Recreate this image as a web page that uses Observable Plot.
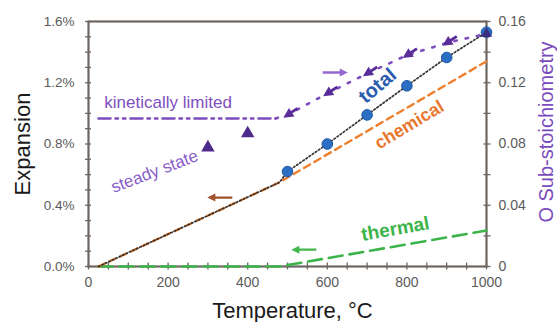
<!DOCTYPE html>
<html><head><meta charset="utf-8">
<script src="https://cdn.jsdelivr.net/npm/d3@7"></script>
<script src="https://cdn.jsdelivr.net/npm/@observablehq/plot@0.6"></script>
<style>html,body{margin:0;padding:0;background:#fff}#chart svg{display:block}</style>
</head><body><div id="chart"></div>
<script>
// ---- data ----
const totalLineT = [25, 480, 500, 600, 700, 800, 900, 1000];
const totalLineV = [0, 0.55, 0.62, 0.80, 0.99, 1.18, 1.365, 1.53];   // expansion %
const totalPointT = [500, 600, 700, 800, 900, 1000];
const totalPointV = [0.62, 0.80, 0.99, 1.18, 1.365, 1.53];
const chemicalT = [25, 480, 1000];
const chemicalV = [0, 0.55, 1.34];
const thermalT = [25, 480, 1000];
const thermalV = [0, 0, 0.235];
const kineticT = [25, 470, 500, 600, 700, 800, 900, 1000];
const kineticO = [0.0967, 0.0967, 0.099, 0.113, 0.126, 0.138, 0.146, 0.152]; // O sub-stoichiometry
const steadyT = [300, 400];
const steadyO = [0.0777, 0.0869];
const coolingT = [500, 600, 700, 800, 900];
const coolingO = [0.099, 0.113, 0.126, 0.138, 0.146];
const endT = [1000];
const endO = [0.152];
const xMajorTicks = [0, 200, 400, 600, 800, 1000];
const xMinorTicks = d3.range(0, 1001, 50);
const leftMajorTicks = [0, 0.4, 0.8, 1.2, 1.6];
const leftMinorTicks = d3.range(0, 16.01, 1).map(v => v / 10);
const rightMajorTicks = [0, 0.04, 0.08, 0.12, 0.16];
const rightMinorTicks = d3.range(0, 0.161, 0.02);
const ratio = 10; // 0.16 O  <->  1.6 %

// ---- annotation layout ----
const labelNotes = [
  {text: "total", T: 726, v: 1.18, rot: -40, color: "#2b5cae", size: 20, weight: "bold"},
  {text: "chemical", T: 806, v: 0.925, rot: -31, color: "#e8782e", size: 18, weight: "bold"},
  {text: "thermal", T: 771, v: 0.245, rot: -10, color: "#3db449", size: 19, weight: "bold"},
  {text: "steady state", T: 166, v: 0.62, rot: -21, color: "#8a5ec8", size: 17, weight: "normal"},
  {text: "kinetically limited", T: 200, v: 1.07, rot: 0, color: "#7f4fc0", size: 17, weight: "normal"}
];
const arrowNotes = [
  {T: 620, v: 1.267, angle: 0, color: "#9466d0"},
  {T: 330, v: 0.45, angle: 180, color: "#a0522d"},
  {T: 541, v: 0.11, angle: 180, color: "#45b649"}
];

function arrowSymbol(angleDeg, total, head, headW, tailW, tip) {
  const a = angleDeg * Math.PI / 180, ux = Math.cos(a), uy = Math.sin(a), vx = -uy, vy = ux;
  const P = (s, w) => [ux * s + vx * w, uy * s + vy * w];
  return {draw(ctx) {
    const pts = [P(tip, 0), P(tip - head, headW / 2), P(tip - head, tailW / 2), P(tip - total, tailW / 2),
                 P(tip - total, -tailW / 2), P(tip - head, -tailW / 2), P(tip - head, -headW / 2)];
    ctx.moveTo(...pts[0]);
    for (const p of pts.slice(1)) ctx.lineTo(...p);
    ctx.closePath();
  }};
}

const axisColor = "#6d6662";
const font = "Liberation Sans, Arial, Helvetica, sans-serif";
const zip = (xs, ys) => xs.map((x, i) => ({x, y: ys[i]}));
const kinetic = zip(kineticT, kineticO.map(v => v * ratio));
const kineticFlat = kinetic.filter(d => d.x <= 470);
const kineticRise = kinetic.filter(d => d.x >= 470);

const marks = [
  // axes / frame
  Plot.axisX(xMinorTicks, {anchor: "bottom", tickSize: 7, dy: -3.5, fill: "none", stroke: axisColor, strokeWidth: 1.3, label: null}),
  Plot.axisX(xMajorTicks, {anchor: "bottom", tickSize: 0, tickPadding: 11, fontSize: 14, fill: "#5a5a5a", tickFormat: d => String(d), label: null}),
  Plot.axisY(leftMinorTicks, {anchor: "left", tickSize: 6, dx: 3, fill: "none", stroke: axisColor, strokeWidth: 1.3, label: null}),
  Plot.axisY(leftMajorTicks, {anchor: "left", tickSize: 0, tickPadding: 14, fontSize: 13.5, fill: "#5a5a5a", tickFormat: d => d.toFixed(1) + "%", label: null}),
  Plot.axisY(rightMinorTicks.map(v => v * ratio), {anchor: "right", tickSize: 7, dx: -3.5, fill: "none", stroke: axisColor, strokeWidth: 1.3, label: null}),
  Plot.axisY(rightMajorTicks.map(v => v * ratio), {anchor: "right", tickSize: 0, tickPadding: 12, fontSize: 14, fill: "#5a5a5a", tickFormat: d => String(+(d / ratio).toFixed(2)), label: null}),
  Plot.frame({stroke: axisColor, strokeWidth: 2.2}),

  // curves
  Plot.line(zip(thermalT, thermalV), {x: "x", y: "y", stroke: "#3cb44a", strokeWidth: 2.6, strokeDasharray: "14 7"}),
  Plot.line(zip(chemicalT, chemicalV), {x: "x", y: "y", stroke: "#ef7f2c", strokeWidth: 2.4, strokeDasharray: "7 5"}),
  Plot.line(zip(totalLineT, totalLineV), {x: "x", y: "y", stroke: "#333", strokeWidth: 1.7, strokeDasharray: "1.6 2.2"}),
  Plot.line(kineticFlat, {x: "x", y: "y", stroke: "#7d4dbd", strokeWidth: 2.6, strokeDasharray: "12 5 2.5 5 2.5 5"}),
  Plot.line(kineticRise, {x: "x", y: "y", stroke: "#7d4dbd", strokeWidth: 2.6, strokeDasharray: "2.5 9"}),

  // markers
  Plot.dot(zip(totalPointT, totalPointV), {x: "x", y: "y", r: 5.3, fill: "#2a6fc4", stroke: "#1d56a2", strokeWidth: 1}),
  Plot.dot(zip(steadyT, steadyO.map(v => v * ratio)), {x: "x", y: "y", symbol: "triangle", r: 5, fill: "#4e2a8c"}),
  Plot.dot(zip(endT, endO.map(v => v * ratio)), {x: "x", y: "y", symbol: "triangle", r: 4.2, fill: "#3d2378", fillOpacity: 0.85}),
  Plot.dot(zip(coolingT, coolingO.map(v => v * ratio)), {x: "x", y: "y", fill: "#5a2c9a",
    symbol: arrowSymbol(147, 17, 10, 10, 2.8, 5)}),

  // annotations
  ...arrowNotes.map(n => Plot.dot([n], {x: "T", y: "v", fill: n.color, symbol: arrowSymbol(n.angle, 25, 8, 8, 2.4, 12.5)})),
  ...labelNotes.map(n => Plot.text([n], {x: "T", y: "v", text: "text", rotate: n.rot, fill: n.color,
    fontSize: n.size, fontWeight: n.weight})),

  // axis titles
  Plot.text(["Expansion"], {text: d => d, frameAnchor: "left", textAnchor: "middle", lineAnchor: "middle", dx: -66, rotate: -90, fontSize: 22, fill: "#1a1a1a"}),
  Plot.text(["O Sub-stoichiometry"], {text: d => d, frameAnchor: "right", textAnchor: "middle", lineAnchor: "middle", dx: 60, dy: -12, rotate: -90, fontSize: 20, fill: "#7a4bbd"}),
  Plot.text(["Temperature, °C"], {text: d => d, frameAnchor: "bottom", textAnchor: "middle", lineAnchor: "middle", dx: 5, dy: 44, fontSize: 22, fill: "#1a1a1a"})
];

const chart = Plot.plot({
  width: 557, height: 322,
  marginLeft: 88, marginRight: 71, marginTop: 21, marginBottom: 56,
  style: {fontFamily: font, background: "#fff", overflow: "visible"},
  x: {domain: [0, 1000], axis: null},
  y: {domain: [0, 1.6], axis: null},
  marks
});
document.getElementById("chart").appendChild(chart);
</script>
</body></html>
